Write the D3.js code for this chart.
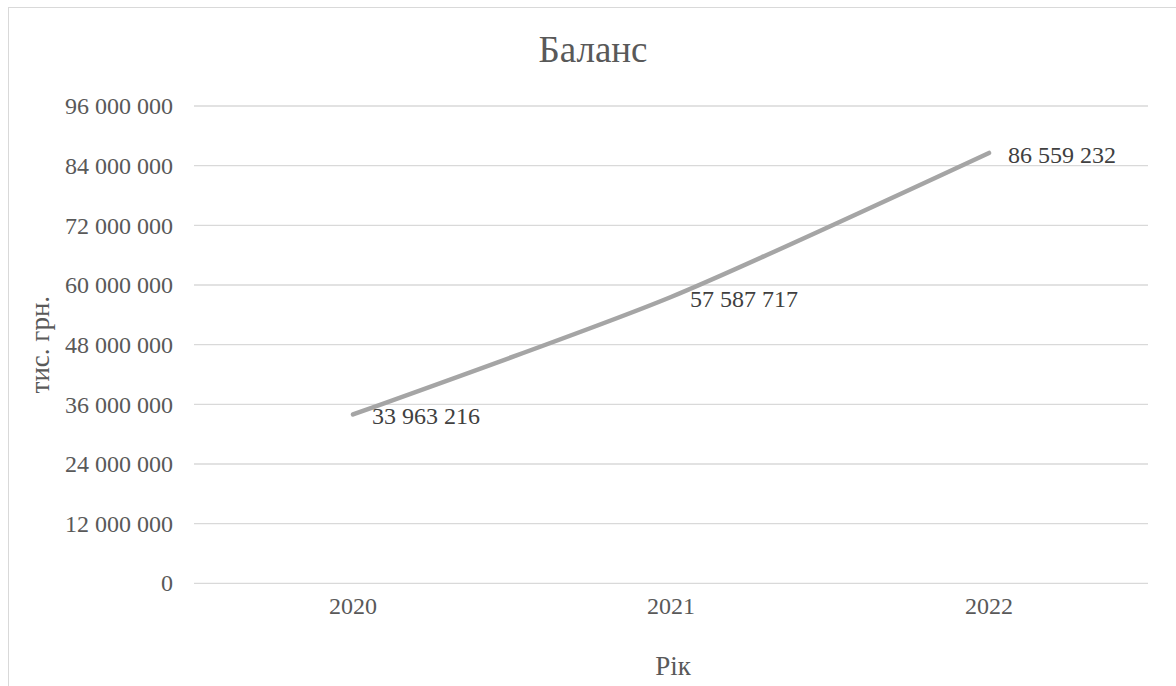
<!DOCTYPE html>
<html>
<head>
<meta charset="utf-8">
<script src="https://cdn.jsdelivr.net/npm/d3@7"></script>
<style>
  html, body { margin: 0; padding: 0; background: #fff; }
  svg { display: block; font-family: "Liberation Serif", "Times New Roman", serif; }
</style>
</head>
<body>
<svg id="chart" width="1176" height="686"></svg>
<script>
// Balance by year, thousand UAH
const years = ["2020", "2021", "2022"];
const balance = [33963216, 57587717, 86559232];
const yTicks = [0, 12000000, 24000000, 36000000, 48000000, 60000000, 72000000, 84000000, 96000000];

const chartTitle = "Баланс";
const yTitle = "тис. грн.";
const xTitle = "Рік";

const W = 1176, H = 686;
const plot = { left: 194, right: 1148, top: 106, bottom: 583.3 };

const svg = d3.select("#chart");

// outer chart frame
svg.append("rect")
  .attr("x", 8.5).attr("y", 7.5)
  .attr("width", W + 20).attr("height", H + 20)
  .attr("fill", "#fff").attr("stroke", "#d9d9d9").attr("stroke-width", 1);

const x = d3.scaleBand().domain(years).range([plot.left, plot.right]);
const y = d3.scaleLinear().domain([0, 96000000]).range([plot.bottom, plot.top]);

const fmt = v => d3.format(",")(v).replace(/,/g, "\u00a0");

// horizontal gridlines
svg.append("g")
  .selectAll("line")
  .data(yTicks)
  .join("line")
  .attr("x1", plot.left).attr("x2", plot.right)
  .attr("y1", d => y(d)).attr("y2", d => y(d))
  .attr("stroke", "#d9d9d9").attr("stroke-width", 1.3);

// y axis labels
const yAxis = svg.append("g")
  .attr("transform", `translate(${plot.left},0)`)
  .call(d3.axisLeft(y).tickValues(yTicks).tickFormat(fmt).tickSize(0).tickPadding(21));
yAxis.select(".domain").remove();
yAxis.selectAll("text")
  .attr("fill", "#595959")
  .style("font-size", "24px")
  .style("font-family", "Liberation Serif, Times New Roman, serif");

// x axis labels
const xAxis = svg.append("g")
  .attr("transform", `translate(0,${plot.bottom})`)
  .call(d3.axisBottom(x).tickSize(0).tickPadding(14));
xAxis.select(".domain").remove();
xAxis.selectAll("text")
  .attr("fill", "#595959")
  .style("font-size", "24px")
  .style("font-family", "Liberation Serif, Times New Roman, serif");

// smoothed series line
const line = d3.line()
  .x((d, i) => x(years[i]) + x.bandwidth() / 2)
  .y(d => y(d))
  .curve(d3.curveCardinal.tension(0.35));

svg.append("path")
  .datum(balance)
  .attr("d", line)
  .attr("fill", "none")
  .attr("stroke", "#a5a5a5")
  .attr("stroke-width", 4.5)
  .attr("stroke-linecap", "round");

// value labels to the right of each point
svg.append("g")
  .selectAll("text")
  .data(balance)
  .join("text")
  .attr("x", (d, i) => x(years[i]) + x.bandwidth() / 2 + 19)
  .attr("y", d => y(d) + 10)
  .attr("fill", "#404040")
  .style("font-size", "24px")
  .text(d => fmt(d));

// titles
svg.append("text")
  .attr("x", 593).attr("y", 62)
  .attr("text-anchor", "middle")
  .attr("fill", "#595959")
  .style("font-size", "37px")
  .text(chartTitle);

svg.append("text")
  .attr("transform", `translate(49,${(plot.top + plot.bottom) / 2}) rotate(-90)`)
  .attr("text-anchor", "middle")
  .attr("fill", "#595959")
  .style("font-size", "27px")
  .text(yTitle);

svg.append("text")
  .attr("x", 673).attr("y", 675)
  .attr("text-anchor", "middle")
  .attr("fill", "#595959")
  .style("font-size", "27px")
  .text(xTitle);
</script>
</body>
</html>
